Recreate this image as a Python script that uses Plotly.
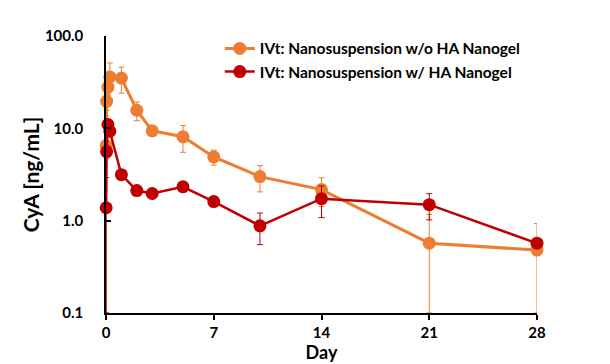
import plotly.graph_objects as go

days = [0.01, 0.04, 0.125, 0.25, 1, 2, 3, 5, 7, 10, 14, 21, 28]

wo_name = "IVt: Nanosuspension w/o HA Nanogel"
wo_mean = [6.5, 19.6, 27.9, 36.0, 35.0, 15.7, 9.4, 8.1, 4.9, 3.0, 2.17, 0.57, 0.48]
wo_sd = [7.0, 4.0, 5.0, 15.0, 11.0, 3.6, 1.0, 2.6, 0.9, 0.95, 0.75, 0.6, 0.45]

w_name = "IVt: Nanosuspension w/ HA Nanogel"
w_mean = [1.38, 5.6, 11.0, 9.3, 3.15, 2.12, 1.97, 2.33, 1.61, 0.88, 1.73, 1.49, 0.57]
w_sd = [1.55, 0.8, 1.0, 1.0, 0.2, 0.15, 0.15, 0.3, 0.1, 0.33, 0.65, 0.47, 0.05]

x_ticks = [0, 7, 14, 21, 28]
y_ticks = [0.1, 1, 10, 100]
y_ticktext = ["0.1", "1.0", "10.0", "100.0"]

Y_MIN = 0.1
FONT = "Lato"
ORANGE = "#ED7D31"
RED = "#C00000"


def minus(vals, sds):
    # visually clip lower error bars at the axis floor
    return [min(s, v - Y_MIN) for v, s in zip(vals, sds)]


fig = go.Figure()
for name, vals, sds, col, lw in [
    (wo_name, wo_mean, wo_sd, ORANGE, 3),
    (w_name, w_mean, w_sd, RED, 2.5),
]:
    fig.add_trace(go.Scatter(
        x=days, y=vals, name=name, mode="lines+markers",
        line=dict(color=col, width=lw),
        marker=dict(color=col, size=13),
        error_y=dict(type="data", array=sds, arrayminus=minus(vals, sds),
                     symmetric=False, color=col, thickness=1, width=3),
        cliponaxis=False,
    ))

fig.update_layout(
    width=610, height=364,
    margin=dict(l=106, r=73, t=36, b=51, autoexpand=False),
    plot_bgcolor="white", paper_bgcolor="white",
    font=dict(family=FONT, color="black", size=15),
    showlegend=True,
    legend=dict(x=0.264, y=1.015, xanchor="left", yanchor="top",
                bgcolor="rgba(0,0,0,0)",
                font=dict(family=FONT, size=15.5, color="black", weight="bold"),
                tracegroupgap=0, itemwidth=30),
    xaxis=dict(range=[0, 28], tickvals=x_ticks, ticktext=[str(t) for t in x_ticks],
               automargin=False,
               showline=True, linecolor="black", linewidth=1.5,
               ticks="outside", ticklen=5, tickwidth=1.5, tickcolor="black",
               showgrid=False, zeroline=False,
               tickfont=dict(family=FONT, size=15, weight="bold"),
               title=dict(text="Day", standoff=0,
                          font=dict(family=FONT, size=18, weight="bold"))),
    yaxis=dict(type="log", range=[-1, 2], tickvals=y_ticks, ticktext=y_ticktext,
               automargin=False,
               showline=True, linecolor="black", linewidth=1.5,
               ticks="inside", ticklen=5, tickwidth=1.5, tickcolor="black",
               ticklabelstandoff=18,
               showgrid=False, zeroline=False,
               tickfont=dict(family=FONT, size=15, weight="bold"),
               title=dict(text="CyA [ng/mL]", standoff=0,
                          font=dict(family=FONT, size=21, weight="bold"))),
)

fig.write_html("out.html", config={"displayModeBar": False},
               post_script="document.body.style.margin='0';")
